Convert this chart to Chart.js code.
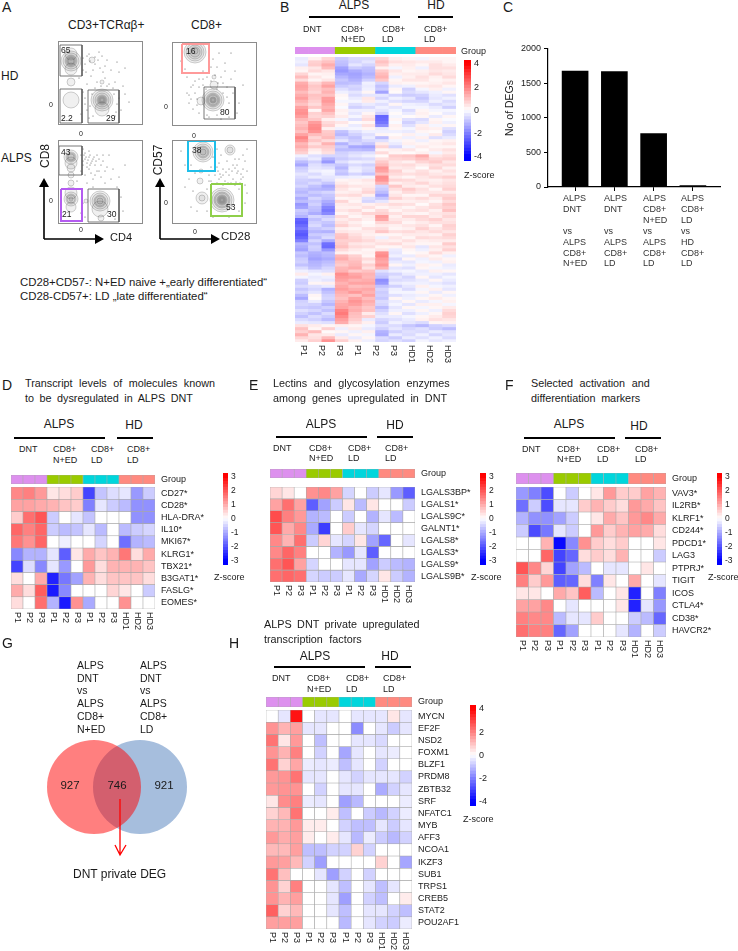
<!DOCTYPE html>
<html>
<head>
<meta charset="utf-8">
<style>
  html, body { margin: 0; background: #fff; }
  #page { position: relative; width: 738px; height: 951px; overflow: hidden; font-family: "Liberation Sans", Arial, sans-serif; color: #1a1a1a; }
  #page div.t { position: absolute; white-space: pre; line-height: 1; }
  #page canvas { position: absolute; }
  #page .bar { position: absolute; background: #000; }
  #page svg { position: absolute; left: 0; top: 0; z-index: 2; }
</style>
</head>
<body>
<div id="page">
<svg width="738" height="951">
  <g fill="none" stroke="#000" stroke-width="1.6">
    <path d="M44 239V186M44 239H97M160 239V186M160 239H213"/>
  </g>
  <g fill="#000">
    <path d="M44 178l-5 9h10zM104 239l-9-5v10zM160 178l-5 9h10zM220 239l-9-5v10z"/>
  </g>
  <path d="M120 799V855M115 845l5 10 6-10" fill="none" stroke="#f00" stroke-width="1.3"/>
</svg>
</div>
<script src="https://cdn.jsdelivr.net/npm/chart.js@4"></script>
<script>
const FONT = '"Liberation Sans", Arial, sans-serif';
Chart.defaults.font.family = FONT;
Chart.defaults.color = '#1a1a1a';

// panel C
const degCats = [
  ['ALPS', 'DNT', '', 'vs', 'ALPS', 'CD8+', 'N+ED'],
  ['ALPS', 'DNT', '', 'vs', 'ALPS', 'CD8+', 'LD'],
  ['ALPS', 'CD8+', 'N+ED', 'vs', 'ALPS', 'CD8+', 'LD'],
  ['ALPS', 'CD8+', 'LD', 'vs', 'HD', 'CD8+', 'LD']
];
const degCounts = [1673, 1667, 770, 20];
const degTicks = [0, 500, 1000, 1500, 2000];

// panel G
const vennCounts = [927, 746, 921];

// heatmap columns
const groupColors = ['#dd90ee', '#dd90ee', '#dd90ee', '#9acb00', '#9acb00', '#9acb00', '#00d6dc', '#00d6dc', '#00d6dc', '#ff8a80', '#ff8a80', '#ff8a80'];
const sampleLabels = ['P1', 'P2', 'P3', 'P1', 'P2', 'P3', 'P1', 'P2', 'P3', 'HD1', 'HD2', 'HD3'];
const sampleLabelsB = ['P1', 'P2', 'P3', 'P1', 'P2', 'P3', 'HD1', 'HD2', 'HD3'];

// panel D
const genesD = ['CD27*', 'CD28*', 'HLA-DRA*', 'IL10*', 'MKI67*', 'KLRG1*', 'TBX21*', 'B3GAT1*', 'FASLG*', 'EOMES*'];
const heatD = [
  [1.4, 1.5, 1.2, 0.3, 0.4, 0.6, -2.2, -0.7, -0.4, -0.3, -1.2, -0.6],
  [1.1, 1.1, 1.0, 0.9, 0.7, 0.6, -1.5, -0.3, -0.6, -0.8, -1.3, -1.3],
  [0.6, 1.7, 2.0, -0.6, 0, -0.3, -0.7, 0, 0, 0, -1.3, -1.3],
  [1.8, 1.5, 1.8, -0.6, -0.8, -0.7, -0.3, -0.8, 0, -0.8, -0.6, -0.5],
  [1.6, 1.3, 1.8, 0, -0.2, 0, 0, -0.5, 0, -1.7, -0.9, -0.8],
  [-1.4, -0.9, -0.9, -0.3, -1.9, 0.3, 1.0, 0.7, 0.9, 1.6, 0.4, 1.0],
  [-2.2, -0.4, -1.4, -0.3, -1.2, 0, 1.2, 0.4, 0.9, 0.9, 0.9, 0.7],
  [0.4, 0, 1.0, -2.6, -1.6, -1.1, 0.9, 0.4, 0.7, 0.7, 0.7, 0.4],
  [1.0, 0.4, 1.9, -2.7, -1.4, 0, 0, 0, 0.5, 0.3, 0, -0.6],
  [0.4, 0, 1.7, -0.9, -2.7, 1.3, -1.0, 0, 0, 1.3, 0, 0]
];

// panel E
const genesE = ['LGALS3BP*', 'LGALS1*', 'LGALS9C*', 'GALNT1*', 'LGALS8*', 'LGALS3*', 'LGALS9*', 'LGALS9B*'];
const heatE = [
  [0.5, 0.3, 0, 1.3, 1.4, 1.1, -0.5, 0, -0.6, -0.3, -1.2, -1.9],
  [1.1, 1.7, 1.1, -1.9, -1.1, -0.6, 0.3, -0.8, 0.3, 0, 0, -0.6],
  [2.1, 1.5, 1.2, -0.9, -0.8, 0, -0.6, 0, -0.9, -0.3, -0.8, 0],
  [2.0, 1.0, 1.4, -1.0, -2.3, 0, 0.6, -0.3, -0.5, 0, 0, 0],
  [1.4, 0.9, 1.7, -0.6, 0.5, -0.3, -0.5, 0.3, -1.1, -1.8, 0, -0.3],
  [1.4, 1.8, 1.5, 0, 0, -0.9, -1.2, -0.3, -1.9, 0, 0, 0],
  [1.7, 2.0, 1.1, -0.5, 0, 0, -0.3, -0.3, -1.1, -0.6, -0.8, -0.9],
  [1.7, 1.8, 1.7, -0.5, -0.6, -0.6, -0.3, -1.0, -0.5, 0.3, -0.6, -0.9]
];

// panel F
const genesF = ['VAV3*', 'IL2RB*', 'KLRF1*', 'CD244*', 'PDCD1*', 'LAG3', 'PTPRJ*', 'TIGIT', 'ICOS', 'CTLA4*', 'CD38*', 'HAVCR2*'];
const heatF = [
  [-1.2, -1.5, -2.1, 0, -0.6, 0, 0.3, 1.2, 0.6, 0.6, 1.1, 0.9],
  [-1.7, -0.6, -2.1, -0.3, -0.3, 0.6, 0.9, 0.6, 0.4, 1.2, 1.0, 0.7],
  [-0.9, -1.3, -1.3, -1.1, -0.6, 0, 0.3, 1.0, 0.7, 1.2, 1.4, 1.0],
  [-0.6, -2.1, -1.6, -0.3, -0.6, 0, 1.2, 0.6, 0.9, 1.1, 1.0, 0.4],
  [0, 0, 0.9, -2.9, -1.4, 1.3, 0.6, 0.4, 0.6, 0, 0, 0.3],
  [0, 0, 1.8, -2.2, -1.8, 0.4, 0.6, 0.4, 0.9, 0, 0, -0.6],
  [2.0, 1.4, 0.5, -2.2, -1.1, -0.8, 0, -0.3, -0.3, 0, 0.3, 0],
  [1.5, 0.6, 1.2, -1.9, -1.8, 0.4, -1.5, 0.3, 0, 1.0, 0, -0.3],
  [0.3, 0.3, 0, 1.0, 0.7, 1.9, -0.8, 0, 0.3, -2.6, 0, -1.5],
  [1.1, 1.1, 1.4, 0, -0.3, 0, 0, 0, 0.3, -2.6, -0.3, -1.2],
  [1.5, 1.4, 1.4, -0.8, -0.3, -0.3, 0.6, 0, 0, -0.6, -0.8, -1.8],
  [1.7, 1.5, 1.5, -1.8, -1.1, 0, 0, 0, -0.3, -0.9, 0, -0.6]
];

// panel H
const genesH = ['MYCN', 'EF2F', 'NSD2', 'FOXM1', 'BLZF1', 'PRDM8', 'ZBTB32', 'SRF', 'NFATC1', 'MYB', 'AFF3', 'NCOA1', 'IKZF3', 'SUB1', 'TRPS1', 'CREB5', 'STAT2', 'POU2AF1'];
const heatH = [
  [0, -0.4, 3.7, 0, -0.4, -0.4, 0, -0.4, -0.4, -0.4, 0.4, -0.4],
  [1.7, 1.2, 1.5, -0.4, -0.4, 0, 0, -1.8, 0, -0.4, -0.8, -0.4],
  [2.2, 0.4, 1.6, 0, -1.0, 0, 0, -0.4, -0.4, -0.6, 0, 0],
  [1.7, 1.2, 2.0, 0, -0.7, 0, -1.4, -0.4, 0, -0.4, -0.3, 0],
  [2.2, 0.7, 1.4, -0.3, -0.4, -0.3, -1.0, -0.4, 0, -0.7, 0, 0],
  [1.6, 1.7, 2.2, -0.4, -0.4, 0, -0.4, -0.7, -0.4, -0.4, -0.4, -0.7],
  [1.6, 1.7, 1.7, 0, -0.7, 0, -0.4, -0.4, 0, -1.3, -0.7, -0.4],
  [0.4, 1.8, 2.0, -0.3, -0.4, 0, -1.5, -1.1, 0, 0, 0, -0.3],
  [0.7, 1.1, 2.2, 0, 0, 0.3, -1.0, 0, -0.8, -1.1, -0.7, -0.3],
  [1.2, 1.2, 1.6, 0.3, 0.3, 0, -0.7, -1.0, -1.0, -0.4, -0.8, -0.4],
  [1.6, 1.3, 1.5, 0.3, 0, 0.3, -0.4, -1.1, -0.3, -0.8, -1.1, -0.7],
  [1.1, 1.1, 1.5, -1.0, -1.0, -0.7, -0.7, 0.7, -0.7, 0, 0, 0],
  [1.6, 1.5, 1.1, -0.7, -1.5, 0, 0, 0, 0, 0.7, 0, -1.4],
  [2.2, 1.0, 0, 0, -0.4, -1.5, -0.7, 0, -0.7, 0, 0, 0],
  [1.7, 0.7, 2.0, 0, 0, -0.4, -1.0, 0, -0.4, -1.0, -0.4, 0],
  [1.7, 1.2, 1.5, 0, 0, -0.4, -1.5, 0, -0.7, -1.0, 0, 0.3],
  [2.5, 0.7, 1.1, 0, 0, -0.4, -1.0, 0, -0.4, -0.4, -0.7, -1.0],
  [1.5, 1.5, 1.5, 0, 0, 0, -1.1, 0, -0.4, -0.7, -0.8, -0.3]
];

// panel B
const heatB = [
  [-0.4, 0.3, 0.8, -1.0, -0.7, -0.7, 0.8, 0.3, 0.2, -0.2, 0.2, 0.2],
  [-0.3, 0.9, 1.2, -1.2, -0.8, -0.5, 1.2, 0.6, 0.5, 0.4, 0.4, 0.2],
  [-0.5, 1.0, 1.6, -1.3, -0.5, -0.8, 0.9, 0.3, 0.4, 0.2, 0.6, 0.4],
  [0.3, 0.5, 1.3, -1.8, -1.0, -1.2, 0.3, -0.2, 0.3, -0.3, 0.6, 0.6],
  [0.2, 0.7, 0.5, -2.0, -1.6, -1.3, 1.0, 0.5, 0.2, 0.3, 0.5, 0.4],
  [0.8, 0.2, 0.3, -1.7, -1.8, -1.5, 1.3, 0.3, 0.4, 0.4, 0.7, 0.5],
  [1.3, 0.5, 0.2, -1.4, -1.7, -1.3, 1.5, -0.3, 0.3, 0.6, 0.3, 0.7],
  [0.7, 0.2, 0.5, -1.1, -1.5, -0.9, 1.1, 0.2, 0.5, 0.5, 0.2, 0.3],
  [1.6, 0.8, 1.4, -1.3, -1.2, -0.3, -0.8, 0.3, 0.2, 0.2, 0.3, 0.5],
  [1.8, 1.1, 1.8, -1.0, -0.8, -0.4, -1.2, -0.4, -0.3, 0.4, 0.5, 0.2],
  [1.7, 1.0, 1.3, -0.6, -0.9, -0.3, -1.0, 0.2, -0.9, -0.2, 0.3, -0.3],
  [1.3, 0.8, 1.5, -0.3, -0.5, 0.2, -1.8, 0.1, -0.7, -0.5, -0.3, 0.2],
  [1.6, 1.2, 1.2, 0.2, -0.7, -0.5, -0.5, -0.8, -1.0, -0.9, -0.4, -0.6],
  [1.9, 1.1, 1.9, 0.1, -0.4, 0.5, -0.8, -0.3, -0.5, -1.1, -0.5, -0.3],
  [1.5, 0.9, 2.0, -0.2, -0.2, 0.4, -0.3, -0.6, -0.8, -0.8, -0.3, -0.7],
  [1.2, 0.7, 1.7, 0.2, -0.6, -0.4, -0.6, 0.2, -0.3, -0.4, -0.7, -0.5],
  [1.8, 1.1, 1.5, -0.1, -0.9, -0.7, -0.3, -0.5, -0.2, -0.2, -0.4, -0.9],
  [2.1, 0.2, 1.7, 0.3, -0.3, -0.3, -0.5, -0.2, -0.7, 0.2, -0.2, -0.2],
  [2.2, 0.9, 1.2, 0.2, -0.5, 0.2, -0.9, 0.1, -0.4, 0.3, 0.1, -0.4],
  [1.9, 0.8, 0.9, 0.4, -0.2, 0.5, -3.0, -0.2, 0.1, 0.2, -0.4, 0.2],
  [1.4, 1.1, 0.3, -0.2, -0.6, 0.7, -2.9, 0.2, -0.6, -0.7, 0.2, -0.1],
  [1.1, 1.9, 0.7, 0.5, 0.1, 0.2, -2.7, -0.1, -0.9, -0.5, 0.3, -0.3],
  [1.3, 2.2, 0.9, 0.2, -0.4, 0.6, -2.2, 0.3, -0.6, 0.3, -0.2, 0.2],
  [1.5, 2.3, 0.3, -0.3, -0.2, 0.2, -0.4, 0.2, -0.2, 0.4, 0.3, -0.6],
  [1.2, 2.1, 1.0, -1.2, -0.6, -0.3, -0.3, -0.3, -0.4, 0.2, 0.1, -0.9],
  [1.8, 1.3, 1.1, -1.4, -0.9, -0.6, 0.2, 0.1, 0.3, -0.2, 0.4, -0.7],
  [2.4, 0.8, 1.3, -0.9, -1.2, -0.4, -1.3, 0.3, -0.3, 0.3, -0.6, -0.4],
  [2.0, 1.1, 0.7, -0.5, -1.0, -0.7, -0.6, -0.2, 0.2, -0.3, 0.2, 0.3],
  [1.4, 0.6, 1.5, -1.5, -0.8, -1.1, 0.4, -0.4, 0.3, 0.2, 0.3, 0.5],
  [1.6, 1.0, 1.0, -1.0, -1.7, -1.8, 0.8, -0.8, -0.2, 0.4, 0.2, 0.2],
  [1.2, 0.4, 0.8, -1.3, -1.3, -1.4, 0.2, 0.3, 0.5, 0.1, 0.4, 0.6],
  [0.9, 0.2, 0.6, -0.9, -0.7, -0.6, 0.7, 0.2, 0.1, 0.3, -0.2, 0.4],
  [-0.3, -0.6, -0.8, -0.8, -0.5, -0.3, 0.1, 1.0, 1.1, 1.6, 0.5, 0.7],
  [-0.7, -0.4, -1.5, -1.0, -0.8, -0.7, 0.6, 0.8, 0.9, 1.2, 0.8, 0.9],
  [-1.3, -0.9, -2.0, -0.6, -0.3, -0.4, 1.0, 0.5, 0.3, 0.8, 1.0, 0.5],
  [-1.7, -0.6, -0.9, -1.1, -0.7, -0.9, 1.3, 0.6, 0.7, 0.4, 0.6, 0.7],
  [-1.0, -0.5, -0.6, -1.4, -0.4, -0.6, 2.0, 0.4, 0.5, 0.1, 0.8, 0.3],
  [-0.8, -0.3, -0.2, -1.0, -0.3, -0.7, 1.8, 0.9, 0.3, 0.6, 0.3, 0.6],
  [-0.5, -0.7, -0.3, -1.2, -0.8, -1.1, 1.2, 0.7, 0.6, 0.7, 0.5, 0.4],
  [-0.7, -0.4, -0.5, -0.4, -0.3, -0.2, 2.2, 0.4, 0.2, 0.5, 0.7, 0.9],
  [-0.9, -1.0, -0.6, 0.2, 0.3, 0.5, 2.1, 0.8, 0.7, 0.4, 0.3, 0.5],
  [-1.0, -0.7, -1.1, 0.4, 0.2, 0.3, 1.5, 0.3, 0.5, 0.8, 0.4, 0.6],
  [-0.8, -1.2, -1.7, 0.7, 0.5, 0.4, -0.8, 1.1, 0.4, 0.3, 0.6, 0.7],
  [-1.2, -1.4, -1.5, 0.5, 0.2, 0.6, -1.0, 0.6, 1.0, 0.6, 0.2, 0.9],
  [-1.4, -1.0, -0.8, 0.3, 0.4, 0.8, -1.3, 0.3, 0.7, 0.5, 0.5, 0.4],
  [-1.1, -1.3, -1.1, 0.6, 0.7, 0.3, -1.8, 0.5, 0.2, 0.2, 0.8, 0.8],
  [-1.6, -0.8, -1.2, 0.2, 0.3, -0.6, -1.1, 0.9, 0.5, 0.7, 0.4, 1.0],
  [-1.3, -1.1, -1.6, 0.8, 0.2, -0.8, -0.5, 0.3, 0.3, 0.4, 0.2, 0.7],
  [-2.0, -0.9, -1.9, 0.4, 0.5, 0.3, 0.5, 0.7, 0.6, 0.1, 0.6, 1.1],
  [-1.8, -1.2, -2.4, 0.3, 0.3, 0.6, 0.2, 0.4, 0.2, 0.5, 0.7, 0.9],
  [-1.0, -1.3, -2.6, 0.5, 0.7, 0.2, 0.7, 0.2, 0.5, 0.6, 0.3, 1.2],
  [-1.2, -1.6, -2.3, 0.2, 0.4, 0.8, 0.9, 0.6, 0.3, 0.2, 0.5, 0.6],
  [-1.5, -0.8, -1.0, 0.7, 0.2, 0.4, 1.9, 0.3, 0.8, 0.8, 0.4, 0.8],
  [-3.0, -1.2, -0.7, 0.4, 0.6, 0.3, 1.7, 0.5, 0.4, 0.7, 0.9, 0.5],
  [-3.2, -0.9, -1.1, 0.6, 0.3, 0.1, 0.8, 0.7, 0.2, 0.4, 0.6, 0.6],
  [-2.9, -0.7, -1.3, 0.9, 0.5, 0.2, 0.4, 0.3, 0.5, 0.6, 0.2, 0.9],
  [-2.6, -1.1, -0.9, 0.3, 0.2, 0.6, 0.7, 0.2, 0.3, 0.9, 0.5, 0.8],
  [-3.1, -1.4, -1.5, 0.5, 0.4, 0.4, 1.1, 0.6, 0.7, 0.5, 0.7, 0.5],
  [-3.3, -1.0, -0.9, 1.1, 0.6, 0.3, 0.2, 0.2, 0.4, 0.4, 0.3, 0.9],
  [-3.0, -1.3, -0.7, 1.2, 0.8, 0.5, -0.3, 0.5, 0.2, 0.7, 0.6, 0.7],
  [-2.5, -0.8, -1.6, 0.9, 0.9, 0.7, 0.4, 0.3, 0.6, 0.3, 0.4, 0.4],
  [-1.4, -1.2, -2.8, 1.0, 0.5, 0.4, 0.6, 0.7, 0.3, 0.2, 0.2, 1.0],
  [-1.6, -0.9, -2.9, 1.2, 0.7, 0.6, 0.2, 0.2, 0.5, -0.5, 0.5, 0.6],
  [-1.8, -1.0, -2.0, 0.7, 0.4, 0.2, 0.5, -0.4, 0.2, -0.3, 0.3, 0.9],
  [-1.1, -1.5, -1.3, 0.3, 0.2, 0.3, 2.1, -0.5, 0.1, 0.2, 0.7, 0.3],
  [-1.3, -1.6, -1.4, 1.4, 0.9, 0.2, 2.3, -0.3, -0.4, 0.4, 0.2, -0.3],
  [-1.0, -1.8, -1.6, 1.6, 1.1, 0.7, 1.9, -0.7, 0.2, -0.3, 0.4, 0.2],
  [-0.9, -1.5, -1.3, 1.2, 1.3, 0.4, 1.7, -0.4, -0.5, -0.2, -0.3, 0.3],
  [-1.2, -1.4, -1.1, 1.0, 1.4, 0.9, 2.0, 0.2, -0.3, 0.3, 0.2, -0.4],
  [-0.7, -1.2, -0.8, 1.4, 1.6, 0.6, 1.5, -0.5, -0.6, 0.2, -0.2, -0.3],
  [-0.3, -0.5, -0.6, 1.5, 1.0, 1.2, -0.6, -0.3, -0.2, -0.4, 0.3, 0.2],
  [0.4, -0.2, 0.3, 2.2, 1.7, 1.5, -1.0, -0.8, -0.4, -0.3, -0.3, -0.5],
  [-0.2, -0.4, -0.3, 2.0, 1.9, 1.4, -1.2, -0.5, -0.8, 0.2, -0.5, -0.2],
  [-0.9, -0.3, -0.5, 1.8, 1.5, 1.6, -2.2, -0.7, -0.6, -0.4, 0.2, -0.4],
  [-1.0, 0.2, 0.3, 1.5, 1.8, 1.8, -2.0, -0.4, -0.3, -0.3, -0.4, -0.6],
  [-0.7, -0.6, -0.4, 1.7, 1.3, 1.4, -1.2, -0.9, -0.5, 0.3, -0.2, -0.3],
  [-1.1, -0.8, -1.5, 1.9, 1.6, 1.7, -0.8, -0.3, -0.7, -0.2, 0.3, -0.5],
  [-0.8, -0.5, -1.2, 1.6, 2.0, 1.5, -1.0, -0.2, -0.2, 0.2, -0.4, 0.2],
  [-1.3, 0.2, -0.9, 1.4, 1.2, 1.8, -0.9, -0.6, -0.4, -0.3, 0.2, -0.3],
  [-1.7, 0.1, -0.8, 1.2, 1.8, 1.3, -1.1, 0.2, -0.3, 0.2, 0.4, 0.2],
  [-0.9, -0.4, -1.1, 1.5, 2.1, 1.6, -0.7, -0.4, 0.2, -0.4, -0.2, 0.3],
  [-0.8, -0.9, -1.4, 1.7, 1.9, 1.4, -0.8, -0.2, -0.5, 0.3, 0.3, -0.2],
  [-1.0, -1.1, -0.9, 1.8, 1.5, 1.1, -1.3, -0.5, 0.2, -0.2, 0.2, 0.4],
  [-0.6, -0.8, -1.2, 2.4, 1.6, 1.2, -0.9, -0.3, -0.3, 0.2, -0.3, 0.7],
  [-0.9, -1.2, -0.7, 2.6, 1.3, 0.4, -0.6, 0.2, -0.6, -0.3, 0.2, 0.9],
  [-1.2, -0.7, -1.0, 2.3, 1.2, 0.9, -0.4, -0.4, -0.2, 0.2, 0.4, 0.8],
  [-0.7, -0.9, -1.3, 1.9, 1.0, -0.4, -0.8, -0.6, -0.4, 0.3, 0.6, 0.5],
  [-0.4, -0.5, -0.6, 1.6, 0.7, 0.3, -1.0, -0.3, -0.5, -0.7, 0.2, 0.3],
  [0.6, 0.4, 0.2, 0.3, 0.2, -0.2, -0.6, -0.7, -1.1, -1.4, -0.9, -0.7],
  [1.2, 0.2, 0.9, -0.3, 0.4, -0.4, -0.9, -0.5, -0.8, -0.6, -1.0, -1.3],
  [0.9, 1.3, 0.1, 0.2, -0.3, 0.3, -1.5, -0.9, -0.6, -0.7, -0.4, -0.6],
  [1.5, 0.5, 0.4, -0.4, 0.2, -0.2, -1.6, -0.4, -0.7, -0.3, -0.8, -0.5],
  [0.8, 0.6, 1.3, 0.4, -0.4, 0.2, -0.7, -1.0, -0.4, -0.6, -0.3, -0.7],
  [0.4, 0.9, 2.1, 0.9, 0.3, -0.3, -0.8, -0.6, -0.9, -0.2, -0.5, -0.3]
];

// panel A gates, contours and events, one per plot
const gatesTL = [[1, 3, 23, 34], [1, 47, 23, 81], [29, 48, 60, 81]];
const ringsTL = [
  [12, 19, 10], [12, 19, 8], [12, 19, 6], [12, 19, 5], [12, 19, 4], [12, 19, 3], [12, 27, 6], [12, 12, 6],
  [43, 58, 11], [43, 58, 9], [43, 58, 7], [43, 58, 5], [43, 58, 4], [43, 58, 3], [43, 58, 2], [43, 67, 7],
  [12, 58, 8], [12, 40, 4], [33, 18, 3], [43, 40, 2]
];
const dotsTL = [[30, 12], [36, 22], [40, 10], [48, 18], [52, 28], [44, 30], [46, 36], [50, 42], [56, 40], [60, 30], [38, 40], [32, 34], [24, 28], [28, 42], [24, 50], [22, 72], [26, 62], [60, 56], [62, 68], [66, 52], [64, 44], [56, 74], [30, 76], [34, 74], [70, 60], [20, 36], [58, 20], [66, 26], [42, 44], [46, 24],
  [24, 16], [26, 22], [28, 14], [31, 19], [36, 15], [39, 18], [43, 14], [27, 30], [34, 28], [41, 26], [48, 44], [54, 46], [55, 52], [58, 62], [57, 70], [26, 56], [28, 68], [31, 64], [33, 52], [36, 46]];

const gatesTR = [[9, 1, 36, 30], [31, 44, 62, 76]];
const gateTRcolor = '#ff9a9a';
const ringsTR = [
  [22, 9, 11], [22, 9, 9], [22, 9, 7], [22, 9, 5], [22, 8, 3],
  [40, 57, 11], [40, 57, 9], [40, 57, 7], [40, 57, 6], [40, 57, 5], [40, 57, 3], [40, 57, 2], [41, 42, 4], [41, 34, 2], [28, 58, 4]
];
const dotsTR = [[40, 16], [44, 24], [48, 34], [36, 30], [30, 36], [22, 38], [18, 44], [14, 50], [22, 50], [26, 44], [30, 28], [52, 20], [46, 10], [54, 44], [58, 36], [60, 50], [66, 60], [64, 70], [56, 74], [20, 66], [16, 60], [26, 70], [14, 34], [12, 26], [8, 18], [50, 40], [38, 38], [62, 28], [34, 72], [48, 76], [58, 10], [70, 42],
  [34, 34], [38, 24], [42, 32], [45, 40], [30, 42], [26, 36], [33, 46], [24, 56], [20, 42], [16, 52], [52, 28], [50, 50], [54, 54], [56, 60], [52, 68], [44, 72], [36, 74], [24, 62], [18, 56], [44, 46]];

const gatesBL = [[0, 5, 23, 34], [2, 48, 23, 80], [29, 48, 60, 81]];
const gateBLcolor = '#b45cf0';
const ringsBL = [
  [12, 16, 7], [12, 16, 5], [12, 16, 4], [12, 16, 3], [12, 22, 6], [12, 27, 4], [12, 34, 3],
  [12, 42, 3], [12, 52, 6], [12, 58, 7], [12, 58, 5], [12, 58, 4], [12, 58, 2], [12, 66, 5],
  [41, 60, 10], [41, 60, 8], [41, 60, 6], [41, 60, 5], [41, 60, 3], [41, 68, 8], [42, 77, 3], [27, 60, 2]
];
const dotsBL = [[22, 14], [26, 18], [28, 22], [24, 24], [30, 16], [32, 22], [34, 18], [36, 24], [38, 14], [30, 28], [22, 30], [26, 34], [38, 30], [44, 20], [48, 26], [50, 14], [54, 28], [42, 36], [34, 38], [28, 42], [52, 38], [60, 36], [58, 46], [62, 56], [64, 70], [56, 78], [24, 62], [22, 72], [26, 76], [18, 40], [20, 48], [34, 46], [46, 42], [66, 24], [30, 10], [24, 8],
  [25, 14], [27, 16], [29, 19], [31, 14], [33, 20], [35, 16], [37, 20], [40, 18], [42, 24], [28, 26], [32, 32], [36, 34], [40, 30], [24, 20], [26, 12], [31, 24], [44, 14], [46, 30]];

const gatesBR = [[15, 0, 42, 30], [38, 43, 69, 75]];
const gateBRcolors = ['#1fbfea', '#8fcf4a'];
const ringsBR = [
  [30, 11, 10], [30, 11, 8], [30, 11, 6], [30, 11, 5], [30, 11, 3],
  [49, 59, 12], [49, 59, 10], [49, 59, 8], [49, 59, 7], [49, 59, 5], [49, 59, 4], [49, 59, 3], [49, 59, 2],
  [57, 9, 5], [57, 9, 3], [29, 57, 6], [29, 57, 3], [27, 40, 3], [28, 30, 2]
];
const dotsBR = [[44, 8], [48, 14], [46, 22], [50, 28], [54, 20], [60, 24], [66, 18], [70, 28], [64, 32], [56, 34], [48, 36], [42, 34], [38, 40], [44, 42], [52, 40], [60, 38], [68, 38], [72, 44], [74, 52], [72, 62], [66, 48], [62, 44], [38, 26], [36, 34], [22, 32], [16, 38], [12, 46], [20, 50], [18, 66], [24, 70], [34, 70], [40, 76], [56, 76], [66, 70], [70, 14], [74, 8], [12, 24], [8, 10], [18, 24], [40, 16],
  [45, 30], [47, 33], [50, 34], [53, 31], [56, 28], [59, 30], [62, 27], [65, 30], [68, 33], [70, 36], [46, 38], [50, 44], [55, 42], [58, 42], [63, 41], [67, 42], [44, 26], [42, 20], [62, 18], [64, 24], [72, 20], [74, 30], [36, 40], [34, 48]];

const page = document.getElementById('page');

function text(str, x, y, size, opts) {
  const o = opts || {};
  const d = document.createElement('div');
  d.className = 't';
  d.textContent = str;
  d.style.left = x + 'px';
  d.style.top = y + 'px';
  d.style.fontSize = size + 'px';
  if (o.spacing) d.style.wordSpacing = o.spacing + 'px';
  if (o.color) d.style.color = o.color;
  let tf = 'translateY(-50%)';
  if (o.center) tf = 'translate(-50%,-50%)';
  if (o.rotate) tf = 'translate(-50%,-50%) rotate(' + o.rotate + 'deg)';
  d.style.transform = tf;
  page.appendChild(d);
}

function hline(x1, x2, y, h) {
  const d = document.createElement('div');
  d.className = 'bar';
  d.style.cssText = 'left:' + x1 + 'px;top:' + (y - h / 2) + 'px;width:' + (x2 - x1) + 'px;height:' + h + 'px';
  page.appendChild(d);
}

function addCanvas(x, y, w, h) {
  const c = document.createElement('canvas');
  c.width = w;
  c.height = h;
  c.style.left = x + 'px';
  c.style.top = y + 'px';
  c.style.width = w + 'px';
  c.style.height = h + 'px';
  page.appendChild(c);
  return c;
}

function zColor(z, max) {
  const t = Math.min(Math.abs(z) / max, 1);
  const v = Math.round(255 * (1 - t));
  return z >= 0 ? 'rgb(255,' + v + ',' + v + ')' : 'rgb(' + v + ',' + v + ',255)';
}

function noMargins(s) {
  s.paddingTop = 0;
  s.paddingBottom = 0;
  s.paddingLeft = 0;
  s.paddingRight = 0;
}

// column labels read downwards, the tick renderer can't anchor them that way
const colLabelsPlugin = {
  id: 'colLabels',
  afterDraw(chart) {
    const s = chart.scales.xt;
    if (!s) return;
    const ctx = chart.ctx;
    ctx.save();
    ctx.fillStyle = '#1a1a1a';
    ctx.font = '9px ' + FONT;
    ctx.textAlign = 'left';
    ctx.textBaseline = 'middle';
    s.options.labels.forEach((label, i) => {
      ctx.save();
      ctx.translate(s.getPixelForValue(i), chart.chartArea.bottom + 3);
      ctx.rotate(Math.PI / 2);
      ctx.fillText(label, 0, 0);
      ctx.restore();
    });
    ctx.restore();
  }
};

// heat cells are unit bars stacked per column, one dataset per row
function heatChart(box, colors, names, opts) {
  const o = opts || {};
  const labelW = o.labelW === undefined ? 70 : o.labelW;
  const colH = o.colLabels ? 30 : 0;
  const canvas = addCanvas(box.x, box.y, box.w + labelW, box.h + colH);
  const labels = colors[0].map((c, i) => i);
  const datasets = colors.map(row => ({
    data: row.map(() => 1),
    backgroundColor: row,
    borderColor: o.border || 'transparent',
    borderWidth: o.border ? 0.6 : 0,
    borderSkipped: false,
    barPercentage: 1,
    categoryPercentage: 1
  }));
  const scales = {
    x: { stacked: true, display: false },
    y: { stacked: true, display: false, min: 0, max: colors.length, reverse: true }
  };
  if (names) {
    scales.names = {
      type: 'category', position: 'right', labels: names, offset: true,
      grid: { display: false, drawTicks: false }, border: { display: false },
      ticks: { font: { size: 9 }, color: '#1a1a1a', padding: 6, autoSkip: false },
      afterFit: s => { s.width = labelW; noMargins(s); }
    };
  }
  if (o.colLabels) {
    scales.xt = { type: 'category', position: 'bottom', labels: o.colLabels, offset: true, display: false };
  }
  return new Chart(canvas, {
    type: 'bar',
    data: { labels, datasets },
    options: {
      responsive: false, animation: false, devicePixelRatio: 1,
      layout: { padding: { bottom: colH } },
      plugins: { legend: { display: false }, tooltip: { enabled: false } },
      scales
    },
    plugins: [colLabelsPlugin]
  });
}

function heatPanel(box, groupBox, rows, names, max, colLabels, border) {
  const colors = rows.map(r => r.map(z => zColor(z, max)));
  heatChart(groupBox, [groupColors], ['Group'], { border });
  heatChart(box, colors, names, { border, colLabels });
}

function colorBar(x, y, w, h, max, ticks, fontSize) {
  const pad = 6;
  const canvas = addCanvas(x, y - pad, w + 18, h + pad * 2);
  const ext = max * h / (h - 8);
  const steps = 32;
  const datasets = [];
  for (let i = 0; i < steps; i++) {
    const a = -ext + 2 * ext * i / steps;
    const b = -ext + 2 * ext * (i + 1) / steps;
    datasets.push({
      data: [[a, b + 0.02]],
      backgroundColor: zColor((a + b) / 2, max),
      barPercentage: 1,
      categoryPercentage: 1
    });
  }
  new Chart(canvas, {
    type: 'bar',
    data: { labels: [''], datasets },
    options: {
      responsive: false, animation: false, devicePixelRatio: 1,
      layout: { padding: { top: pad, bottom: pad } },
      plugins: { legend: { display: false }, tooltip: { enabled: false } },
      scales: {
        x: { stacked: true, display: false },
        y: {
          position: 'right', min: -ext, max: ext,
          afterBuildTicks: s => { s.ticks = ticks.map(v => ({ value: v })); },
          afterFit: s => { s.width = 18; noMargins(s); },
          grid: { display: false, drawTicks: false }, border: { display: false },
          ticks: { font: { size: fontSize }, color: '#1a1a1a', padding: 3, autoSkip: false, callback: v => v }
        }
      }
    }
  });
}

function annot(a) {
  text('ALPS', a.alps[0], a.alps[1], 12, { center: true });
  text('HD', a.hd[0], a.hd[1], 12, { center: true });
  hline(a.line1[0], a.line1[1], a.lineY, a.lineH);
  hline(a.line2[0], a.line2[1], a.lineY, a.lineH);
  text('DNT', a.cols[0], a.y1, 9);
  text('CD8+', a.cols[1], a.y1, 9);
  text('N+ED', a.cols[1], a.y2, 9);
  text('CD8+', a.cols[2], a.y1, 9);
  text('LD', a.cols[2], a.y2, 9);
  text('CD8+', a.cols[3], a.y1, 9);
  text('LD', a.cols[3], a.y2, 9);
}

function flowPlot(box, gates, gateColors, rings, dots) {
  const canvas = addCanvas(box.x, box.y, 83, 82);
  canvas.style.outline = '1px solid #8c8c8c';
  const datasets = gates.map((g, i) => ({
    type: 'scatter',
    data: [{ x: g[0], y: g[1] }, { x: g[2], y: g[1] }, { x: g[2], y: g[3] }, { x: g[0], y: g[3] }, { x: g[0], y: g[1] }],
    showLine: true,
    borderColor: gateColors[i] || '#555',
    borderWidth: gateColors[i] ? 2 : 0.8,
    pointRadius: 0,
    clip: false
  }));
  datasets.push({
    type: 'bubble',
    data: rings.map(r => ({ x: r[0], y: r[1], r: r[2] })),
    backgroundColor: 'rgba(40,40,40,0.07)',
    borderColor: 'rgba(70,70,70,0.5)',
    borderWidth: 0.5
  });
  datasets.push({
    type: 'scatter',
    data: dots.map(d => ({ x: d[0], y: d[1] })),
    backgroundColor: '#555',
    borderWidth: 0,
    pointRadius: 0.55
  });
  new Chart(canvas, {
    type: 'bubble',
    data: { datasets },
    options: {
      responsive: false, animation: false, devicePixelRatio: 1,
      layout: { autoPadding: false },
      plugins: { legend: { display: false }, tooltip: { enabled: false } },
      scales: {
        x: { type: 'linear', min: 0, max: 83, display: false },
        y: { type: 'linear', min: 0, max: 82, reverse: true, display: false }
      }
    }
  });
}

// panel A
text('A', 2, 7, 14);
text('CD3+TCR\u03b1\u03b2+', 68, 25, 12);
text('CD8+', 191, 25, 12);
text('HD', 1, 76, 12);
text('ALPS', 1, 158, 12);
flowPlot({ x: 59, y: 42 }, gatesTL, [], ringsTL, dotsTL);
flowPlot({ x: 173, y: 43 }, gatesTR, [gateTRcolor], ringsTR, dotsTR);
flowPlot({ x: 59, y: 141 }, gatesBL, [null, gateBLcolor], ringsBL, dotsBL);
flowPlot({ x: 173, y: 141 }, gatesBR, gateBRcolors, ringsBR, dotsBR);
[['65', 61, 50], ['2.2', 61, 118], ['29', 106, 118], ['16', 186, 51], ['80', 220, 112], ['43', 61, 152], ['21', 62, 214], ['30', 107, 214], ['38', 192, 150], ['53', 226, 207]]
  .forEach(g => text(g[0], g[1], g[2], 8.5));
[[49, 104], [79, 133], [164, 106], [192, 135], [49, 200], [79, 229], [164, 202], [193, 231]]
  .forEach(p => text('0', p[0], p[1], 7));
text('CD8', 45, 156, 12, { rotate: -90 });
text('CD57', 158, 160, 12, { rotate: -90 });
text('CD4', 110, 237, 11);
text('CD28', 221, 237, 11.5);
text('CD28+CD57-: N+ED naive +\u201eearly differentiated\u201c', 20, 283, 11.4);
text('CD28-CD57+: LD \u201elate differentiated\u201c', 20, 297, 11.4);

// panel B
text('B', 280, 7, 14);
annot({ alps: [354, 5], hd: [436, 5], line1: [309, 400], line2: [418, 453], lineY: 17, lineH: 1.8, cols: [303, 341, 382, 424], y1: 29, y2: 39 });
heatChart({ x: 295, y: 47, w: 161, h: 7 }, [groupColors], null, { labelW: 0 });
text('Group', 461, 51, 9);
// printed colours run paler than the legend here
heatChart({ x: 295, y: 57, w: 161, h: 285 }, heatB.map(r => r.map(z => zColor(z, 5))), null, { labelW: 0, colLabels: sampleLabelsB });
colorBar(464, 60, 7, 101, 4, [-4, -2, 0, 2, 4], 9);
text('Z-score', 464, 175, 9);

// panel C
text('C', 503, 7, 14);
const cChart = addCanvas(505, 40, 225, 156);
new Chart(cChart, {
  type: 'bar',
  data: {
    datasets: [{ data: degCounts.map((v, i) => ({ x: i, y: v })), backgroundColor: '#000', barThickness: 26 }]
  },
  options: {
    responsive: false, animation: false, devicePixelRatio: 1,
    layout: { padding: { top: 8, right: 10, bottom: 0, left: 0 } },
    plugins: { legend: { display: false }, tooltip: { enabled: false } },
    scales: {
      x: {
        type: 'linear', min: -0.69, max: 3.69, offset: false,
        afterBuildTicks: s => { s.ticks = degCats.map((c, i) => ({ value: i })); },
        afterFit: s => { s.height = 9; noMargins(s); },
        grid: { display: true, offset: false, drawOnChartArea: false, tickLength: 4, color: '#000' },
        border: { color: '#000', width: 1.2 },
        ticks: { display: false, autoSkip: false }
      },
      y: {
        min: 0, max: 2000,
        afterBuildTicks: s => { s.ticks = degTicks.map(v => ({ value: v })); },
        afterFit: s => { s.width = 43; },
        grid: { drawOnChartArea: false, tickLength: 4, color: '#000' },
        border: { color: '#000', width: 1.2 },
        ticks: { font: { size: 9 }, color: '#1a1a1a', padding: 3, callback: v => v }
      }
    }
  }
});
text('No of DEGs', 509, 108, 10.5, { rotate: -90 });
[563, 604, 643, 681].forEach((x, i) => {
  degCats[i].forEach((line, j) => text(line, x, 198 + j * 10.9, 9, { color: '#333' }));
});

// panel D
text('D', 2, 385, 14);
text('Transcript levels of molecules known', 25, 383, 10.8, { spacing: 3.5 });
text('to be dysregulated in ALPS DNT', 25, 398, 10.8, { spacing: 2.5 });
annot({ alps: [59, 424], hd: [134, 425], line1: [14, 105], line2: [117, 153], lineY: 438, lineH: 1.2, cols: [19, 53, 91, 127], y1: 449, y2: 460 });
heatPanel({ x: 11, y: 487, w: 144, h: 122 }, { x: 11, y: 475, w: 144, h: 9 }, heatD, genesD, 3, sampleLabels, '#a8a8a8');
colorBar(223, 473, 5, 92, 3, [-3, -2, -1, 0, 1, 2, 3], 8.5);
text('Z-score', 214, 577, 9);

// panel E
text('E', 249, 385, 14);
text('Lectins and glycosylation enzymes', 273, 383, 10.8, { spacing: 3.5 });
text('among genes upregulated in DNT', 273, 398, 10.8, { spacing: 3 });
annot({ alps: [321, 424], hd: [395, 425], line1: [276, 367], line2: [377, 413], lineY: 437, lineH: 2, cols: [273, 309, 348, 385], y1: 448, y2: 458 });
heatPanel({ x: 270, y: 487, w: 145, h: 95 }, { x: 270, y: 469, w: 145, h: 9 }, heatE, genesE, 3, sampleLabels, '#a8a8a8');
colorBar(480, 473, 6, 92, 3, [-3, -2, -1, 0, 1, 2, 3], 8.5);
text('Z-score', 471, 577, 9);

// panel F
text('F', 505, 385, 14);
text('Selected activation and', 531, 383, 10.8, { spacing: 3.5 });
text('differentiation markers', 531, 398, 10.8, { spacing: 2.5 });
annot({ alps: [569, 424], hd: [639, 426], line1: [524, 615], line2: [625, 661], lineY: 438, lineH: 2, cols: [522, 557, 597, 635], y1: 449, y2: 459 });
heatPanel({ x: 516, y: 487, w: 150, h: 150 }, { x: 516, y: 473, w: 150, h: 11 }, heatF, genesF, 3, sampleLabels, '#a8a8a8');
colorBar(717, 473, 5, 92, 3, [-3, -2, -1, 0, 1, 2, 3], 8.5);
text('Z-score', 708, 577, 9);

// panel G
text('G', 2, 643, 14);
['ALPS', 'DNT', 'vs', 'ALPS', 'CD8+', 'N+ED'].forEach((l, i) => text(l, 77, 665 + i * 12.7, 10.5));
['ALPS', 'DNT', 'vs', 'ALPS', 'CD8+', 'LD'].forEach((l, i) => text(l, 140, 665 + i * 12.7, 10.5));
const vennCanvas = addCanvas(40, 735, 160, 104);
new Chart(vennCanvas, {
  type: 'bubble',
  data: {
    datasets: [
      { data: [{ x: 54, y: 52, r: 47 }], backgroundColor: 'rgba(255,0,0,0.5)', borderWidth: 0 },
      { data: [{ x: 100, y: 52, r: 47 }], backgroundColor: '#a6bedd', borderWidth: 0 }
    ]
  },
  options: {
    responsive: false, animation: false, devicePixelRatio: 1,
    layout: { autoPadding: false },
    plugins: { legend: { display: false }, tooltip: { enabled: false } },
    scales: {
      x: { type: 'linear', min: 0, max: 160, display: false },
      y: { type: 'linear', min: 0, max: 104, reverse: true, display: false }
    }
  }
});
[70, 117, 164].forEach((x, i) => text(String(vennCounts[i]), x, 786, 11.5, { center: true }));
text('DNT private DEG', 73, 874, 12);

// panel H
text('H', 229, 643, 14);
text('ALPS DNT private upregulated', 264, 624, 10.8, { spacing: 2.5 });
text('transcription factors', 264, 639, 10.8, { spacing: 3.5 });
annot({ alps: [315, 656], hd: [390, 656], line1: [274, 365], line2: [375, 411], lineY: 667, lineH: 2, cols: [272, 307, 346, 383], y1: 678, y2: 689 });
heatPanel({ x: 266, y: 710, w: 146, h: 219 }, { x: 266, y: 697, w: 146, h: 10 }, heatH, genesH, 4, sampleLabels, '#a8a8a8');
colorBar(470, 705, 6, 101, 4, [-4, -2, 0, 2, 4], 9);
text('Z-score', 463, 819, 9);
</script>
</body>
</html>
